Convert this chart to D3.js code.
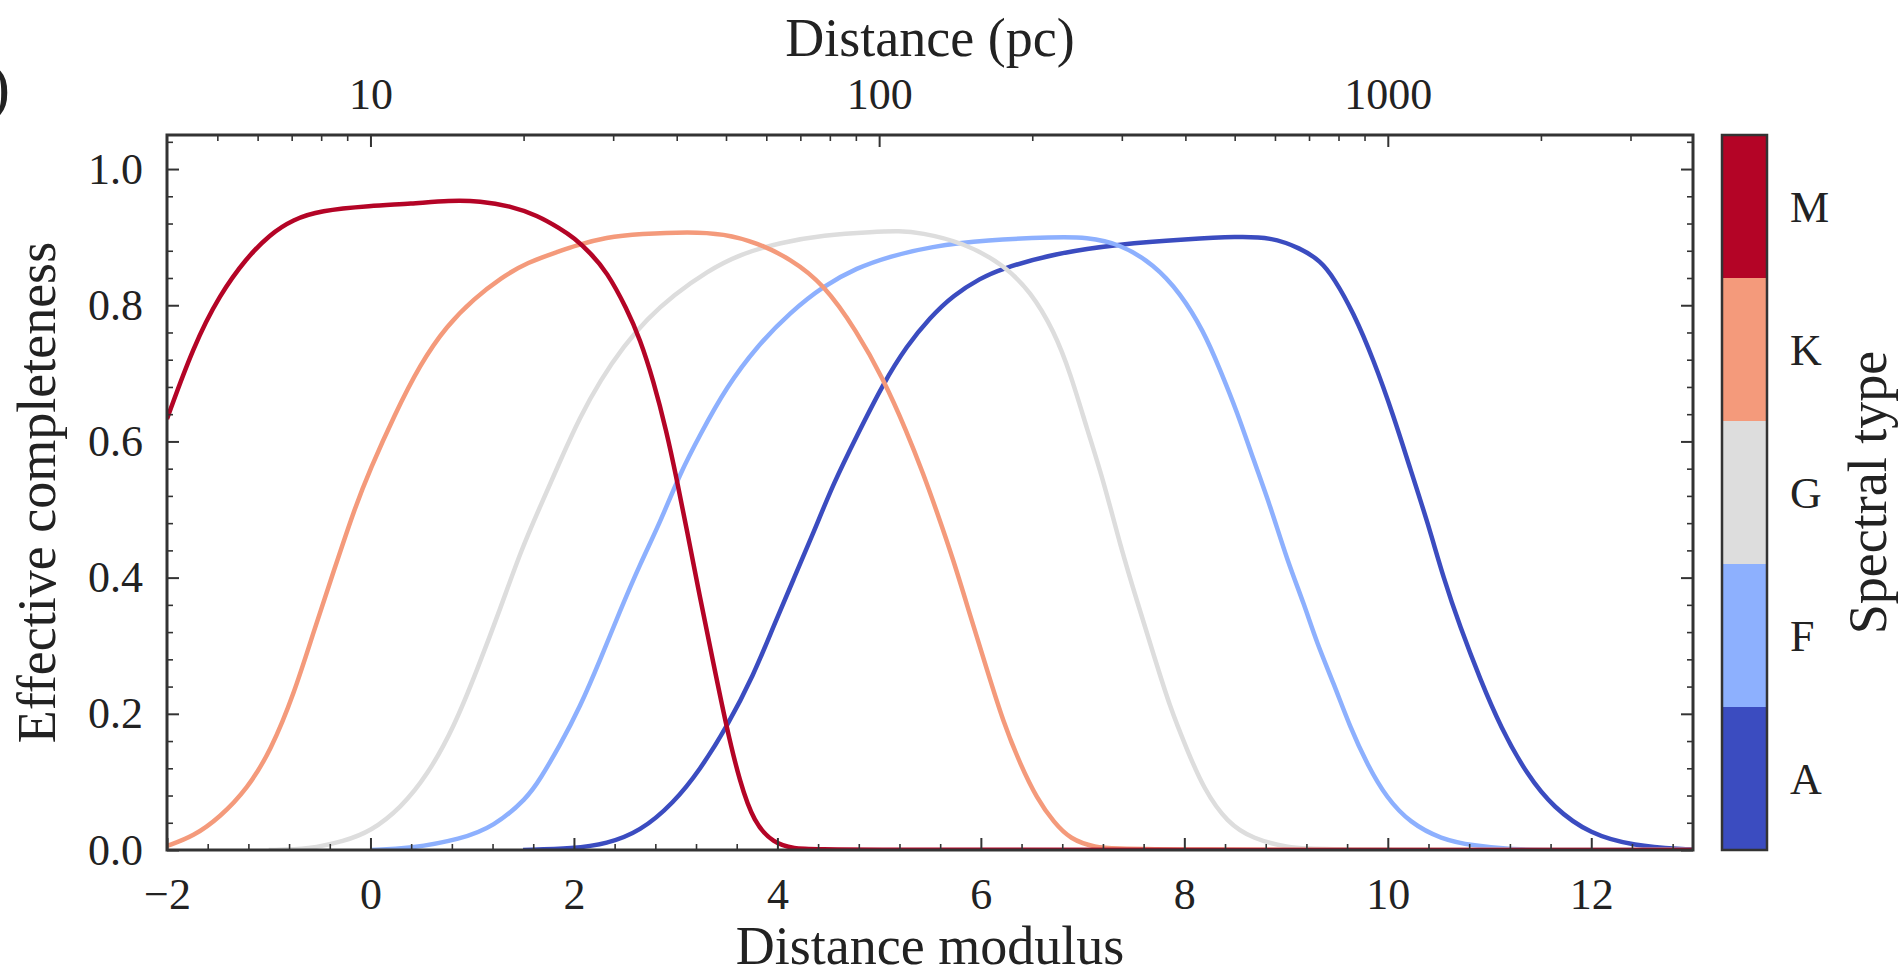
<!DOCTYPE html>
<html>
<head>
<meta charset="utf-8">
<script src="https://cdn.jsdelivr.net/npm/d3@7"></script>
<style>
	html, body { margin: 0; padding: 0; background: #fff; }
	svg text { font-family: "Liberation Serif", "DejaVu Serif", serif; fill: #222; }
</style>
</head>
<body>
<div id="chart"></div>
<script>
// spectral types, bottom to top of the colour bar
var types = ["A", "F", "G", "K", "M"];
var typeColors = ["#3b4cc0", "#8db0fe", "#dddddd", "#f49a7b", "#b40426"];

// distance modulus / effective completeness
var muA = [1.5, 2.0, 2.32, 2.65, 2.98, 3.24, 3.5, 3.77, 3.96, 4.16, 4.36, 4.55, 4.78, 5.04, 5.27, 5.5, 5.73, 6.0, 6.19, 6.72, 7.37, 8.03, 8.52, 8.85, 9.14, 9.34, 9.47, 9.66, 9.86, 10.06, 10.22, 10.39, 10.55, 10.71, 10.91, 11.11, 11.37, 11.63, 11.99, 12.42, 12.91, 13];
var compA = [0, 0.002, 0.009, 0.027, 0.069, 0.118, 0.18, 0.258, 0.328, 0.398, 0.468, 0.538, 0.608, 0.685, 0.74, 0.782, 0.815, 0.84, 0.853, 0.876, 0.89, 0.897, 0.901, 0.9, 0.884, 0.865, 0.84, 0.79, 0.72, 0.636, 0.56, 0.482, 0.398, 0.328, 0.25, 0.18, 0.11, 0.062, 0.023, 0.006, 0.001, 0.001];

var muF = [0, 0.39, 0.89, 1.21, 1.54, 1.667, 1.86, 2.06, 2.26, 2.45, 2.65, 2.85, 3.04, 3.24, 3.5, 3.8, 4.13, 4.45, 4.78, 5.11, 5.5, 6.06, 6.72, 7.04, 7.37, 7.7, 7.96, 8.19, 8.35, 8.52, 8.68, 8.85, 9.01, 9.18, 9.3, 9.47, 9.63, 9.8, 9.99, 10.22, 10.52, 10.85, 11.2, 11.5, 13];
var compF = [0, 0.002, 0.016, 0.034, 0.076, 0.104, 0.153, 0.21, 0.28, 0.35, 0.42, 0.482, 0.552, 0.61, 0.68, 0.74, 0.79, 0.828, 0.855, 0.872, 0.886, 0.896, 0.9, 0.9, 0.89, 0.86, 0.818, 0.762, 0.706, 0.643, 0.573, 0.503, 0.426, 0.36, 0.305, 0.244, 0.18, 0.125, 0.076, 0.04, 0.016, 0.006, 0.001, 0, 0];

var muG = [-1.0, -0.6, -0.26, 0, 0.3, 0.56, 0.82, 1.05, 1.28, 1.48, 1.67, 1.86, 2.06, 2.26, 2.49, 2.72, 2.98, 3.31, 3.63, 4.03, 4.45, 4.95, 5.2, 5.4, 5.83, 6.22, 6.49, 6.72, 6.88, 7.04, 7.21, 7.37, 7.54, 7.7, 7.86, 8.03, 8.19, 8.42, 8.68, 9.01, 9.3, 13];
var compG = [0, 0.001, 0.013, 0.027, 0.062, 0.11, 0.18, 0.265, 0.356, 0.44, 0.505, 0.57, 0.636, 0.69, 0.74, 0.78, 0.815, 0.85, 0.875, 0.892, 0.903, 0.908, 0.909, 0.907, 0.892, 0.86, 0.82, 0.762, 0.7, 0.62, 0.54, 0.447, 0.363, 0.286, 0.209, 0.146, 0.09, 0.04, 0.016, 0.004, 0, 0];

var muK = [-2.0, -1.74, -1.48, -1.21, -0.98, -0.75, -0.56, -0.36, -0.16, 0, 0.23, 0.49, 0.75, 1.02, 1.28, 1.54, 1.87, 2.0, 2.32, 2.65, 3.14, 3.47, 3.8, 4.13, 4.45, 4.78, 5.04, 5.27, 5.44, 5.56, 5.73, 5.9, 6.06, 6.22, 6.39, 6.55, 6.72, 6.88, 7.11, 7.4, 13];
var compK = [0.006, 0.02, 0.048, 0.09, 0.146, 0.23, 0.32, 0.41, 0.5, 0.56, 0.637, 0.714, 0.77, 0.81, 0.84, 0.863, 0.88, 0.887, 0.9, 0.905, 0.908, 0.905, 0.892, 0.868, 0.832, 0.762, 0.692, 0.615, 0.55, 0.5, 0.426, 0.342, 0.265, 0.188, 0.125, 0.076, 0.04, 0.016, 0.004, 0, 0];

var muM = [-2.0, -1.74, -1.48, -1.22, -0.99, -0.76, -0.5, 0, 0.4, 0.78, 1.08, 1.37, 1.64, 1.87, 2.0, 2.16, 2.32, 2.52, 2.65, 2.78, 2.91, 3.01, 3.11, 3.24, 3.37, 3.5, 3.63, 3.77, 3.96, 4.16, 4.4, 13];
var compM = [0.633, 0.74, 0.816, 0.869, 0.904, 0.926, 0.939, 0.946, 0.949, 0.954, 0.953, 0.946, 0.932, 0.912, 0.899, 0.877, 0.85, 0.795, 0.75, 0.69, 0.615, 0.545, 0.47, 0.37, 0.275, 0.18, 0.1, 0.04, 0.01, 0.002, 0, 0];

// ticks
var xTicks = [-2, 0, 2, 4, 6, 8, 10, 12];
var yTicks = [0, 0.2, 0.4, 0.6, 0.8, 1.0];
var distTicks = [10, 100, 1000];
var distMinor = [5, 6, 7, 8, 9, 20, 30, 40, 50, 60, 70, 80, 90, 200, 300, 400, 500, 600, 700, 800, 900, 2000, 3000];

(function() {
	var series = [
		{ type: "A", mu: muA, comp: compA },
		{ type: "F", mu: muF, comp: compF },
		{ type: "G", mu: muG, comp: compG },
		{ type: "K", mu: muK, comp: compK },
		{ type: "M", mu: muM, comp: compM }
	];

	var width = 1904,
		height = 979,
		pLeft = 167, pRight = 1693,
		pTop = 135, pBottom = 850,
		axisColor = "#333";

	var svg = d3.select("#chart").append("svg")
		.attr("width", width)
		.attr("height", height);

	var x = d3.scaleLinear().domain([-2, 13]).range([pLeft, pRight]);
	var y = d3.scaleLinear().domain([0, 1.05]).range([pBottom, pTop]);
	// distance in pc from distance modulus: d = 10^(mu/5 + 1)
	var xDist = d3.scaleLog()
		.domain([Math.pow(10, -2 / 5 + 1), Math.pow(10, 13 / 5 + 1)])
		.range([pLeft, pRight]);
	var color = d3.scaleOrdinal().domain(types).range(typeColors);

	svg.append("clipPath").attr("id", "plot-clip")
		.append("rect")
		.attr("x", pLeft).attr("y", pTop)
		.attr("width", pRight - pLeft).attr("height", pBottom - pTop);

	// the points are hand-read, so a B-spline smooths the reading noise
	var line = d3.line()
		.x(function(d) { return x(d[0]); })
		.y(function(d) { return y(d[1]); })
		.curve(d3.curveBasis);

	svg.append("g")
		.attr("clip-path", "url(#plot-clip)")
		.selectAll("path")
		.data(series)
		.enter().append("path")
		.attr("fill", "none")
		.attr("stroke", function(d) { return color(d.type); })
		.attr("stroke-width", 4.5)
		.attr("d", function(d) {
			return line(d.mu.map(function(m, i) { return [m, d.comp[i]]; }));
		});

	function styleAxis(g, w) {
		g.select(".domain").remove();
		g.selectAll(".tick line").attr("stroke", axisColor).attr("stroke-width", w);
		g.selectAll(".tick text").attr("font-size", 44).attr("fill", "#222")
			.style("font-family", '"Liberation Serif", "DejaVu Serif", serif');
	}

	// bottom
	var minorX = d3.range(-2, 13.01, 0.4).filter(function(v) { return Math.abs(v / 2 - Math.round(v / 2)) > 0.01; });
	svg.append("g").attr("transform", "translate(0," + pBottom + ")")
		.call(d3.axisBottom(x).tickValues(minorX).tickSize(-6).tickFormat(""))
		.call(styleAxis, 1.6);
	svg.append("g").attr("transform", "translate(0," + pBottom + ")")
		.call(d3.axisBottom(x).tickValues(xTicks).tickSize(-12).tickFormat(d3.format("d")))
		.call(styleAxis, 2)
		.call(function(g) { g.selectAll(".tick text").attr("y", 59).attr("dy", null); });

	// left and right
	var minorY = d3.range(0, 1.05, 0.04).filter(function(v) { return Math.abs(v / 0.2 - Math.round(v / 0.2)) > 0.01; });
	[["left", pLeft], ["right", pRight]].forEach(function(side) {
		var mk = side[0] === "left" ? d3.axisLeft : d3.axisRight;
		svg.append("g").attr("transform", "translate(" + side[1] + ",0)")
			.call(mk(y).tickValues(minorY).tickSize(-6).tickFormat(""))
			.call(styleAxis, 1.6);
		svg.append("g").attr("transform", "translate(" + side[1] + ",0)")
			.call(mk(y).tickValues(yTicks).tickSize(-12).tickPadding(24)
				.tickFormat(side[0] === "left" ? d3.format(".1f") : ""))
			.call(styleAxis, 2);
	});

	// top: distance in pc
	svg.append("g").attr("transform", "translate(0," + pTop + ")")
		.call(d3.axisTop(xDist).tickValues(distMinor).tickSize(-6).tickFormat(""))
		.call(styleAxis, 1.6);
	svg.append("g").attr("transform", "translate(0," + pTop + ")")
		.call(d3.axisTop(xDist).tickValues(distTicks).tickSize(-12).tickPadding(26).tickFormat(d3.format("d")))
		.call(styleAxis, 2);

	// frame
	svg.append("rect")
		.attr("x", pLeft).attr("y", pTop)
		.attr("width", pRight - pLeft).attr("height", pBottom - pTop)
		.attr("fill", "none").attr("stroke", axisColor).attr("stroke-width", 3);

	// axis labels
	svg.append("text")
		.attr("x", (pLeft + pRight) / 2).attr("y", 964)
		.attr("text-anchor", "middle").attr("font-size", 54)
		.text("Distance modulus");
	svg.append("text")
		.attr("x", (pLeft + pRight) / 2).attr("y", 56)
		.attr("text-anchor", "middle").attr("font-size", 54)
		.text("Distance (pc)");
	svg.append("text")
		.attr("transform", "translate(55," + (pTop + pBottom) / 2 + ") rotate(-90)")
		.attr("text-anchor", "middle").attr("font-size", 54)
		.text("Effective completeness");

	// cut-off panel label at the left edge
	svg.append("text")
		.attr("x", 10).attr("y", 108)
		.attr("text-anchor", "end").attr("font-size", 64)
		.text(")");

	// colour bar
	var cbLeft = 1722, cbWidth = 45;
	var band = d3.scaleBand().domain(types.slice().reverse()).range([pTop, pBottom]);
	var cb = svg.append("g");
	cb.selectAll("rect.band")
		.data(types)
		.enter().append("rect")
		.attr("class", "band")
		.attr("x", cbLeft).attr("y", function(d) { return band(d); })
		.attr("width", cbWidth).attr("height", band.bandwidth())
		.attr("fill", function(d) { return color(d); });
	cb.append("rect")
		.attr("x", cbLeft).attr("y", pTop)
		.attr("width", cbWidth).attr("height", pBottom - pTop)
		.attr("fill", "none").attr("stroke", axisColor).attr("stroke-width", 2.5);
	cb.selectAll("text.lab")
		.data(types)
		.enter().append("text")
		.attr("class", "lab")
		.attr("x", 1790)
		.attr("y", function(d) { return band(d) + band.bandwidth() / 2; })
		.attr("dy", "0.35em")
		.attr("font-size", 44)
		.text(function(d) { return d; });
	svg.append("text")
		.attr("transform", "translate(1886," + (pTop + pBottom) / 2 + ") rotate(-90)")
		.attr("text-anchor", "middle").attr("font-size", 54)
		.text("Spectral type");
})();
</script>
</body>
</html>
